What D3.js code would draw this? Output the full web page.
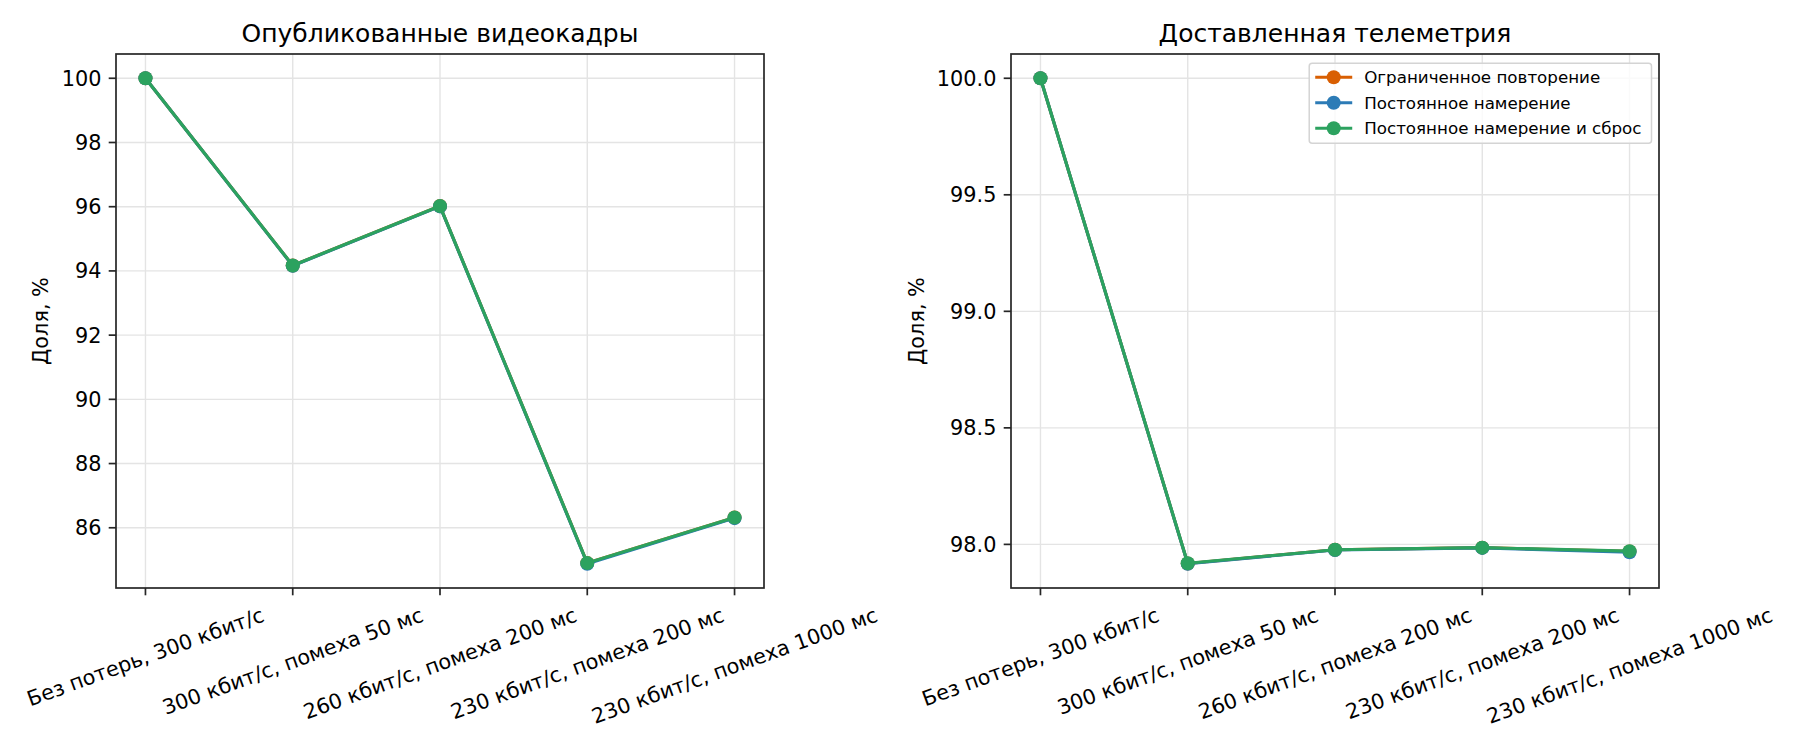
<!DOCTYPE html>
<html>
<head>
<meta charset="utf-8">
<script src="https://cdn.jsdelivr.net/npm/d3@7/dist/d3.min.js"></script>
<style>
  body { margin: 0; background: #fff; }
  svg { display: block; font-family: "DejaVu Sans", sans-serif; }
</style>
</head>
<body>
<div id="chart-area"></div>
<script>
// categories on the x axis (same for both panels)
const categories = [
  "Без потерь, 300 кбит/с",
  "300 кбит/с, помеха 50 мс",
  "260 кбит/с, помеха 200 мс",
  "230 кбит/с, помеха 200 мс",
  "230 кбит/с, помеха 1000 мс"
]

const seriesNames = ["Ограниченное повторение", "Постоянное намерение", "Постоянное намерение и сброс"]
const seriesColors = ["#d95f02", "#2c7bb6", "#2ca25f"]

// left panel: published video frames, %
const framesLimited = [100, 94.17, 96.02, 84.90, 86.32]
const framesIntent  = [100, 94.16, 96.01, 84.88, 86.30]
const framesReset   = [100, 94.17, 96.02, 84.90, 86.32]

// right panel: delivered telemetry, %
const telemLimited = [100, 97.918, 97.977, 97.986, 97.970]
const telemIntent  = [100, 97.917, 97.976, 97.985, 97.966]
const telemReset   = [100, 97.919, 97.977, 97.986, 97.971]

// tick values
const framesTicks = [86, 88, 90, 92, 94, 96, 98, 100]
const telemTicks = [98.0, 98.5, 99.0, 99.5, 100.0]

const WIDTH = 1800
const HEIGHT = 750
const TOP = 54
const BOTTOM = 588
const TICK = 7.3
const PAD = 7.3
const FS_TICK = 20.8
const FS_TITLE = 25
const FS_LEGEND = 16.7
const MARKER_R = 7
const AXIS_COLOR = "#262626"

const svg = d3.select("#chart-area").append("svg")
  .attr("width", WIDTH)
  .attr("height", HEIGHT)

const panels = [
  { left: 116, right: 764, title: "Опубликованные видеокадры",
    series: [framesLimited, framesIntent, framesReset], ticks: framesTicks,
    fmt: d => d3.format("d")(d), legend: false },
  { left: 1011, right: 1659, title: "Доставленная телеметрия",
    series: [telemLimited, telemIntent, telemReset], ticks: telemTicks,
    fmt: d => d3.format(".1f")(d), legend: true }
]

panels.forEach(p => {
  const g = svg.append("g")

  // matplotlib-like 5% margins
  const all = p.series.flat()
  const lo = d3.min(all), hi = d3.max(all)
  const m = (hi - lo) * 0.05

  const x = d3.scaleLinear()
    .domain([-0.2, categories.length - 1 + 0.2])
    .range([p.left, p.right])
  const y = d3.scaleLinear()
    .domain([lo - m, hi + m])
    .range([BOTTOM, TOP])

  // grid
  g.append("g").selectAll("line.gy")
    .data(p.ticks)
    .enter().append("line")
      .attr("x1", p.left).attr("x2", p.right)
      .attr("y1", d => y(d)).attr("y2", d => y(d))
      .attr("stroke", "#e4e4e4").attr("stroke-width", 1.4)
  g.append("g").selectAll("line.gx")
    .data(categories)
    .enter().append("line")
      .attr("x1", (d, i) => x(i)).attr("x2", (d, i) => x(i))
      .attr("y1", TOP).attr("y2", BOTTOM)
      .attr("stroke", "#e4e4e4").attr("stroke-width", 1.4)

  // series: line + markers, green drawn last
  const line = d3.line()
    .x((d, i) => x(i))
    .y(d => y(d))

  p.series.forEach((s, k) => {
    g.append("path")
      .datum(s)
      .attr("d", line)
      .attr("fill", "none")
      .attr("stroke", seriesColors[k])
      .attr("stroke-width", 3.1)
      .attr("stroke-linejoin", "round")
    g.append("g").selectAll("circle")
      .data(s)
      .enter().append("circle")
        .attr("cx", (d, i) => x(i))
        .attr("cy", d => y(d))
        .attr("r", MARKER_R)
        .attr("fill", seriesColors[k])
  })

  // spines
  g.append("rect")
    .attr("x", p.left).attr("y", TOP)
    .attr("width", p.right - p.left).attr("height", BOTTOM - TOP)
    .attr("fill", "none")
    .attr("stroke", AXIS_COLOR)
    .attr("stroke-width", 1.7)

  // y ticks
  const yt = g.append("g")
  yt.selectAll("line")
    .data(p.ticks)
    .enter().append("line")
      .attr("x1", p.left - TICK).attr("x2", p.left)
      .attr("y1", d => y(d)).attr("y2", d => y(d))
      .attr("stroke", AXIS_COLOR).attr("stroke-width", 1.7)
  const yLabels = yt.selectAll("text")
    .data(p.ticks)
    .enter().append("text")
      .attr("x", p.left - TICK - PAD)
      .attr("y", d => y(d))
      .attr("dy", "0.36em")
      .attr("text-anchor", "end")
      .attr("font-size", FS_TICK)
      .attr("fill", "#000")
      .text(p.fmt)

  // x ticks
  const xt = g.append("g")
  xt.selectAll("line")
    .data(categories)
    .enter().append("line")
      .attr("x1", (d, i) => x(i)).attr("x2", (d, i) => x(i))
      .attr("y1", BOTTOM).attr("y2", BOTTOM + TICK)
      .attr("stroke", AXIS_COLOR).attr("stroke-width", 1.7)

  const ang = 20 * Math.PI / 180
  const hText = 1.164 * FS_TICK
  categories.forEach((c, i) => {
    const t = xt.append("text")
      .attr("text-anchor", "middle")
      .attr("font-size", FS_TICK)
      .attr("fill", "#000")
      .attr("y", 0.346 * FS_TICK)
      .text(c)
    const L = t.node().getComputedTextLength()
    const cy = BOTTOM + TICK + PAD + (L * Math.sin(ang) + hText * Math.cos(ang)) / 2
    t.attr("transform", `translate(${x(i)}, ${cy}) rotate(-20)`)
  })

  // y label
  let minX = Infinity
  yLabels.each(function () { minX = Math.min(minX, this.getBBox().x) })
  const ylx = minX - 8.3 - 1.164 * FS_TICK / 2
  g.append("text")
    .attr("transform", `translate(${ylx}, ${(TOP + BOTTOM) / 2}) rotate(-90)`)
    .attr("y", 0.346 * FS_TICK)
    .attr("text-anchor", "middle")
    .attr("font-size", FS_TICK)
    .attr("fill", "#000")
    .text("Доля, %")

  // title
  g.append("text")
    .attr("x", (p.left + p.right) / 2)
    .attr("y", TOP - 12.5)
    .attr("text-anchor", "middle")
    .attr("font-size", FS_TITLE)
    .attr("fill", "#000")
    .text(p.title)

  // legend
  if (p.legend) {
    const lg = g.append("g")
    const box = lg.append("rect")
    const rowY = [77.3, 102.7, 128.3]
    const texts = seriesNames.map((n, k) => lg.append("text")
      .attr("y", rowY[k])
      .attr("dy", "0.36em")
      .attr("font-size", FS_LEGEND)
      .attr("fill", "#000")
      .text(n))
    const maxW = d3.max(texts, t => t.node().getComputedTextLength())
    const boxRight = p.right - 7.5
    const boxLeft = boxRight - (55 + maxW + 10)
    box.attr("x", boxLeft).attr("y", 63.3)
      .attr("width", boxRight - boxLeft).attr("height", 80)
      .attr("rx", 3)
      .attr("fill", "#fff").attr("fill-opacity", 0.8)
      .attr("stroke", "#d4d4d4").attr("stroke-width", 1.5)
    texts.forEach(t => t.attr("x", boxLeft + 55))
    seriesNames.forEach((n, k) => {
      lg.append("line")
        .attr("x1", boxLeft + 6).attr("x2", boxLeft + 43)
        .attr("y1", rowY[k]).attr("y2", rowY[k])
        .attr("stroke", seriesColors[k]).attr("stroke-width", 3.1)
      lg.append("circle")
        .attr("cx", boxLeft + 24.5).attr("cy", rowY[k])
        .attr("r", MARKER_R)
        .attr("fill", seriesColors[k])
    })
  }
})
</script>
</body>
</html>
